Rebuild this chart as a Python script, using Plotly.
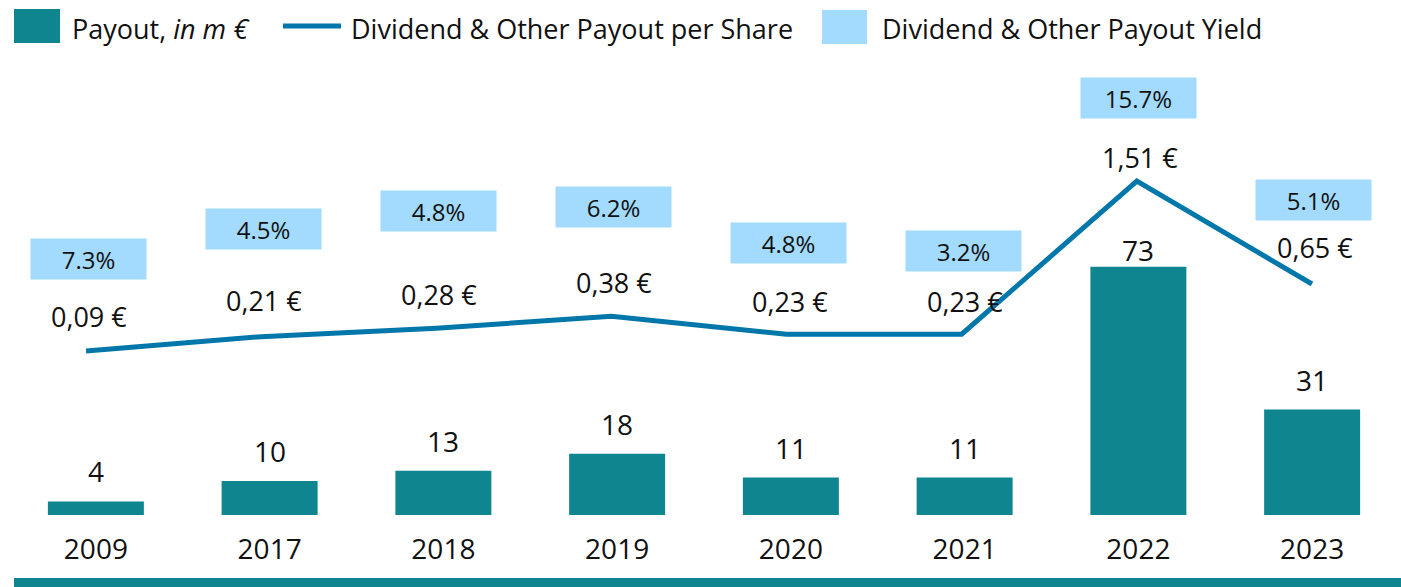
import plotly.graph_objects as go

# data
years = ["2009", "2017", "2018", "2019", "2020", "2021", "2022", "2023"]
payout_m_eur = [4, 10, 13, 18, 11, 11, 73, 31]
payout_per_share = [0.09, 0.21, 0.28, 0.38, 0.23, 0.23, 1.51, 0.65]
payout_yield = [7.3, 4.5, 4.8, 6.2, 4.8, 3.2, 15.7, 5.1]

# label placement (pixels above the mark) - style only
bar_lift = [30, 30, 30, 30, 30, 30, 17, 30]
eur_lift = [35, 36, 34, 34, 33, 33, 24, 36]
yield_lift = [92, 108, 117, 109, 91, 83, 83, 84]

TEAL = "#0f858f"
BLUE = "#0077aa"
SKY = "#a2dbfd"
INK = "#111111"
FONT = "Open Sans"

W, H = 1401, 587
ML, MR, MT, MB = 9, 2, 60, 72
PW, PH = W - ML - MR, H - MT - MB


def px(x):
    return (x - ML) / PW


def py(y):
    return (H - MB - y) / PH


fig = go.Figure()
fig.add_trace(go.Bar(x=years, y=payout_m_eur, marker=dict(color=TEAL, line=dict(width=0)),
                     showlegend=False, hoverinfo="x+y"))
fig.add_trace(go.Scatter(x=years, y=payout_per_share, mode="lines", xaxis="x2", yaxis="y2",
                         line=dict(color=BLUE, width=5), showlegend=False))

ann = []
# category axes: annotate by index, "2009" as a string would be read as a position
for i in range(len(years)):
    ann.append(dict(x=i, y=payout_m_eur[i], xref="x", yref="y", text=str(payout_m_eur[i]),
                    showarrow=False, yshift=bar_lift[i], font=dict(family=FONT, size=28, color=INK)))
    ann.append(dict(x=i, y=payout_per_share[i], xref="x2", yref="y2",
                    text=f"{payout_per_share[i]:.2f}".replace(".", ",") + " €",
                    showarrow=False, yshift=eur_lift[i], xshift=3,
                    font=dict(family=FONT, size=27, color=INK)))
    ann.append(dict(x=i, y=payout_per_share[i], xref="x2", yref="y2",
                    text=f"{payout_yield[i]:.1f}%", showarrow=False,
                    yshift=yield_lift[i], xshift=2, width=115, height=40, borderpad=0,
                    bgcolor=SKY, valign="middle",
                    font=dict(family=FONT, size=24, color=INK)))

# legend, drawn by hand so the swatches are as large as in the reference
shapes = [
    dict(type="rect", xref="paper", yref="paper", x0=px(14), x1=px(60), y0=py(43), y1=py(9),
         fillcolor=TEAL, line=dict(width=0)),
    dict(type="line", xref="paper", yref="paper", x0=px(283), x1=px(341), y0=py(26), y1=py(26),
         line=dict(color=BLUE, width=5)),
    dict(type="rect", xref="paper", yref="paper", x0=px(822), x1=px(867), y0=py(44), y1=py(10),
         fillcolor=SKY, line=dict(width=0)),
    # teal rule along the bottom edge
    dict(type="rect", xref="paper", yref="paper", x0=px(14), x1=px(1401), y0=py(587), y1=py(578),
         fillcolor=TEAL, line=dict(width=0)),
]
legend_font = dict(family=FONT, size=27, color=INK)
for x0, txt in [(70, "Payout, <i>in m €</i>"),
                (349, "Dividend & Other Payout per Share"),
                (880, "Dividend & Other Payout Yield")]:
    ann.append(dict(x=px(x0), y=py(28), xref="paper", yref="paper", text=txt, showarrow=False,
                    xanchor="left", yanchor="middle", font=legend_font))

fig.update_layout(
    width=W, height=H, margin=dict(l=ML, r=MR, t=MT, b=MB),
    plot_bgcolor="white", paper_bgcolor="white", bargap=0.4475,
    annotations=ann, shapes=shapes, showlegend=False,
    xaxis=dict(type="category", range=[-0.5, 7.5], showgrid=False, zeroline=False,
               showline=False, ticks="", ticklabelstandoff=15,
               tickfont=dict(family=FONT, size=28, color=INK)),
    xaxis2=dict(type="category", overlaying="x", range=[-0.44, 7.497], visible=False),
    yaxis=dict(range=[0, PH / 3.4], visible=False),
    yaxis2=dict(overlaying="y", range=[-1.28, 2.521], visible=False),
)

# the page's default 8px body margin would shift the fixed-size figure
fig.write_html("out.html", config={"displayModeBar": False},
               post_script="document.body.style.margin='0px';")
